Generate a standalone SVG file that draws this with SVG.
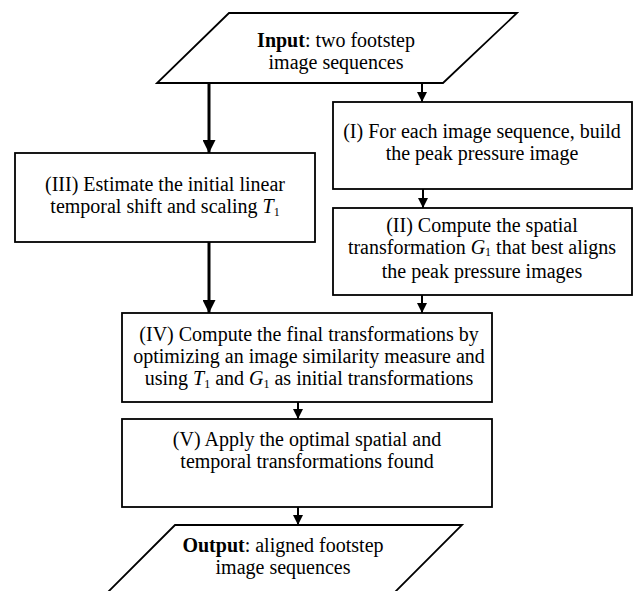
<svg xmlns="http://www.w3.org/2000/svg" width="633" height="591" viewBox="0 0 633 591">
<style>
.box{fill:#fff;stroke:#000;stroke-width:1.8}
.t{font-family:"Liberation Serif","Times New Roman",serif;font-size:20px;fill:#000;text-anchor:middle}
.s{font-size:12px}
.c{stroke:#000;fill:none}
.th{stroke-width:3}
.tn{stroke-width:2}
</style>
<defs>
<marker id="ah" viewBox="0 0 10 10" refX="10" refY="5" markerWidth="10" markerHeight="11" markerUnits="userSpaceOnUse" orient="auto">
<path d="M0,0 L10,5 L0,10 z" fill="#000"/>
</marker>
<marker id="ahb" viewBox="0 0 10 10" refX="10" refY="5" markerWidth="13" markerHeight="13" markerUnits="userSpaceOnUse" orient="auto">
<path d="M0,0 L10,5 L0,10 z" fill="#000"/>
</marker>
</defs>
<rect width="633" height="591" fill="#fff"/>
<g id="connectors">
<line class="c th" x1="209" y1="83" x2="209" y2="153" marker-end="url(#ahb)"/>
<line class="c tn" x1="422" y1="83" x2="422" y2="102" marker-end="url(#ah)"/>
<line class="c tn" x1="423" y1="189" x2="423" y2="208" marker-end="url(#ah)"/>
<line class="c th" x1="209" y1="242" x2="209" y2="313" marker-end="url(#ahb)"/>
<line class="c tn" x1="422" y1="295" x2="422" y2="313" marker-end="url(#ah)"/>
<line class="c tn" x1="298" y1="402" x2="298" y2="419" marker-end="url(#ah)"/>
<line class="c tn" x1="298" y1="507" x2="298" y2="525" marker-end="url(#ah)"/>
</g>
<g id="input">
<polygon class="box" points="229,13 517,13 443,83 157,83"/>
<text class="t" x="336" y="47"><tspan font-weight="bold">Input</tspan>: two footstep</text>
<text class="t" x="336" y="69">image sequences</text>
</g>
<g id="step1">
<rect class="box" x="333" y="102" width="299" height="87"/>
<text class="t" x="482" y="138">(I) For each image sequence, build</text>
<text class="t" x="482" y="160">the peak pressure image</text>
</g>
<g id="step2">
<rect class="box" x="333" y="208" width="299" height="87"/>
<text class="t" x="482" y="232" font-size="19.5">(II) Compute the spatial</text>
<text class="t" x="482" y="254" font-size="19.5">transformation <tspan font-style="italic">G</tspan><tspan class="s" dy="2">1</tspan><tspan dy="-2"> that best aligns</tspan></text>
<text class="t" x="482" y="278" font-size="19.5">the peak pressure images</text>
</g>
<g id="step3">
<rect class="box" x="15" y="153" width="300" height="89"/>
<text class="t" x="165" y="191">(III) Estimate the initial linear</text>
<text class="t" x="165" y="213">temporal shift and scaling <tspan font-style="italic">T</tspan><tspan class="s" dy="3">1</tspan></text>
</g>
<g id="step4">
<rect class="box" x="122" y="313" width="370" height="89"/>
<text class="t" x="309" y="341" font-size="18.5">(IV) Compute the final transformations by</text>
<text class="t" x="309" y="363" font-size="18.5">optimizing an image similarity measure and</text>
<text class="t" x="309" y="385" font-size="18.5">using <tspan font-style="italic">T</tspan><tspan class="s" dy="3">1</tspan><tspan dy="-3"> and </tspan><tspan font-style="italic">G</tspan><tspan class="s" dy="3">1</tspan><tspan dy="-3"> as initial transformations</tspan></text>
</g>
<g id="step5">
<rect class="box" x="122" y="419" width="370" height="88"/>
<text class="t" x="307" y="446">(V) Apply the optimal spatial and</text>
<text class="t" x="307" y="468">temporal transformations found</text>
</g>
<g id="output">
<polygon class="box" points="175,525 462,525 389,598 102,598"/>
<text class="t" x="283" y="552"><tspan font-weight="bold">Output</tspan>: aligned footstep</text>
<text class="t" x="283" y="574">image sequences</text>
</g>
</svg>
